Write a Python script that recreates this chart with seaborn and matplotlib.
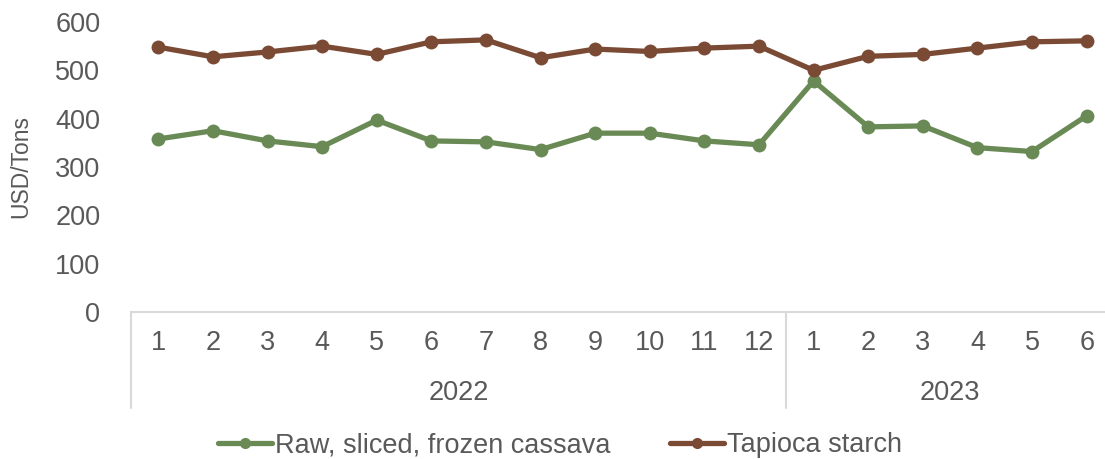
import pandas as pd
import seaborn as sns
import matplotlib.pyplot as plt
from matplotlib.transforms import blended_transform_factory

# data
months = [1, 2, 3, 4, 5, 6, 7, 8, 9, 10, 11, 12, 1, 2, 3, 4, 5, 6]
years = [2022] * 12 + [2023] * 6
cassava = [358, 375, 354, 342, 397, 354, 352, 336, 370, 370, 354, 346,
           478, 383, 385, 340, 332, 406]
tapioca = [548, 528, 538, 550, 533, 559, 563, 526, 544, 539, 546, 550,
           500, 529, 533, 546, 559, 561]

green = '#6a8a55'
brown = '#7a4a35'
grey_text = '#595959'
grey_line = '#d9d9d9'

idx = list(range(len(months)))
df = pd.DataFrame({
    'idx': idx * 2,
    'value': cassava + tapioca,
    'series': ['Raw, sliced, frozen cassava'] * len(idx) + ['Tapioca starch'] * len(idx),
})

sns.set_style('white')
plt.rcParams['font.family'] = ['Liberation Sans', 'DejaVu Sans']

fig = plt.figure(figsize=(11.05, 4.59), dpi=100)
# axes spans past the right edge like the original (clipped there)
ax = fig.add_axes([131 / 1105, (459 - 312) / 459, (1114 - 131) / 1105, (312 - 22) / 459])

sns.lineplot(data=df, x='idx', y='value', hue='series',
             palette=[green, brown], marker='o', markersize=10,
             markeredgewidth=0, linewidth=3.8, ax=ax, legend=True)

ax.set_xlim(-0.5, len(idx) - 0.5)
ax.set_ylim(0, 600)
ax.set_yticks(range(0, 601, 100))
ax.set_xticks(idx)
ax.set_xticklabels([str(m) for m in months])
ax.tick_params(axis='both', length=0, labelsize=19.5, colors=grey_text)
ax.tick_params(axis='x', pad=13)
ax.tick_params(axis='y', pad=22)
ax.set_xlabel('')
ax.set_ylabel('USD/Tons', fontsize=16.5, color=grey_text)
ax.yaxis.set_label_coords(-0.1, 0.5)

for s in ['top', 'right', 'left']:
    ax.spines[s].set_visible(False)
ax.spines['bottom'].set_color(grey_line)
ax.spines['bottom'].set_linewidth(1.5)

# grouped year axis below the month labels
trans = blended_transform_factory(ax.transData, ax.transAxes)
depth = -(408 - 312) / (312 - 22)
bounds = [-0.5]
for i in range(1, len(years)):
    if years[i] != years[i - 1]:
        bounds.append(i - 0.5)
bounds.append(len(years) - 0.5)
for b in bounds:
    ax.plot([b, b], [0, depth], transform=trans, color=grey_line, lw=1.5, clip_on=False)
for a, b in zip(bounds[:-1], bounds[1:]):
    ax.text((a + b) / 2, -(393 - 312) / (312 - 22), str(years[int(a + 0.5)]),
            transform=trans, ha='center', va='center', fontsize=19.5, color=grey_text)

ax.get_legend().remove()
handles, labels = ax.get_legend_handles_labels()
fig.legend(handles, labels, loc='center', bbox_to_anchor=(560 / 1105, 1 - 445 / 459),
           ncol=2, frameon=False, fontsize=19.5, labelcolor=grey_text,
           handlelength=2.0, handletextpad=0.1, columnspacing=2.2, markerscale=0.8)

fig.savefig('out.png', dpi=100)
